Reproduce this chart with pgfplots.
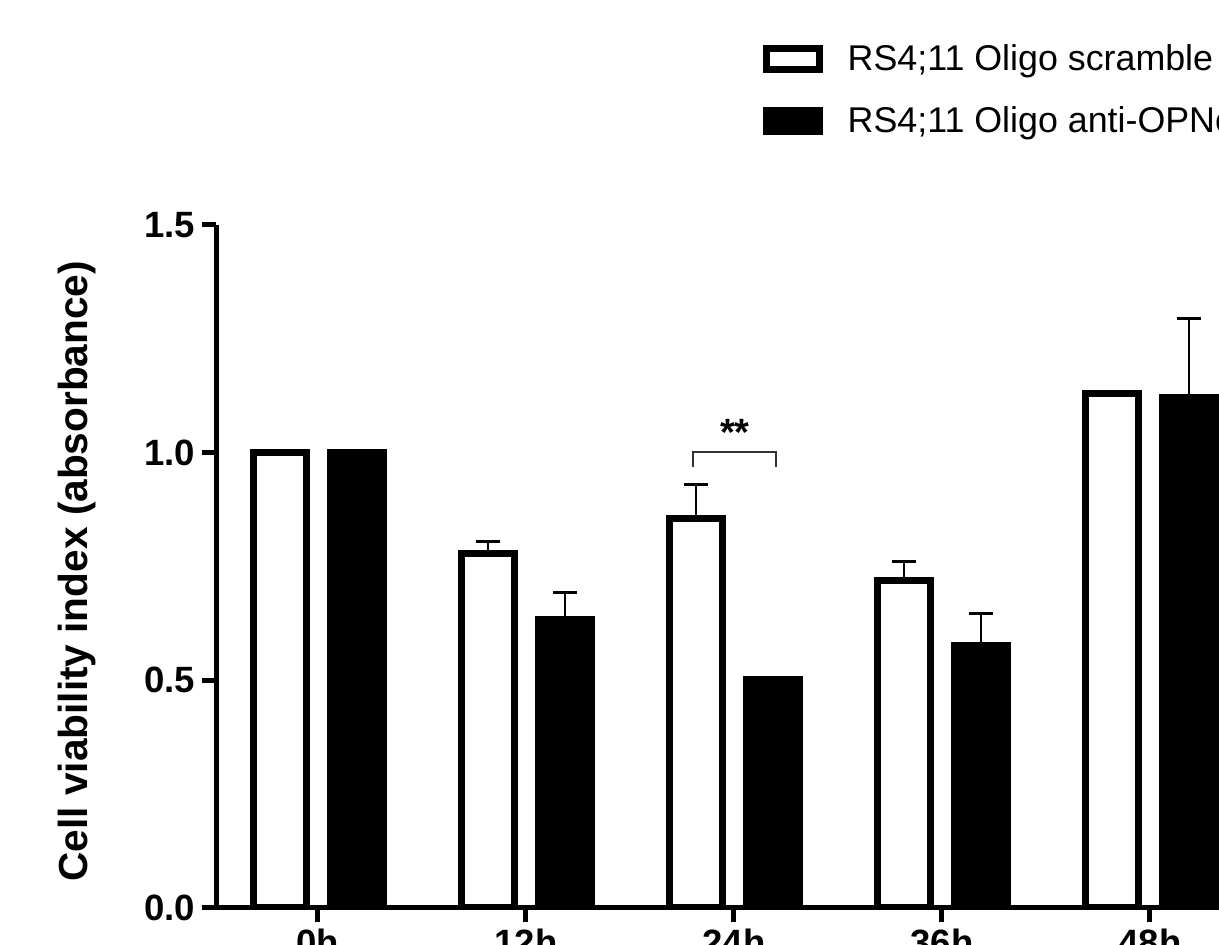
\documentclass[border=0pt]{standalone}
\usepackage{pgfplots}
\pgfplotsset{compat=1.18}
\usepackage{fontspec}
\setmainfont{Liberation Sans}
\begin{document}
\begin{tikzpicture}
\useasboundingbox (0,0) rectangle (609.5pt,472.5pt);
\clip (0,0) rectangle (609.5pt,472.5pt);
\begin{axis}[
  at={(108pt,18.5pt)}, anchor=south west,
  scale only axis, width=529.35pt, height=341.5pt,
  xmin=-0.4904, xmax=4.6, ymin=0, ymax=1.5,
  axis x line*=bottom, axis y line*=left,
  axis line style={line width=2.5pt},
  every tick/.style={black, line width=2.5pt},
  tick align=outside, major tick length=7pt,
  xtick={0,1,2,3,4}, xticklabels={0h,12h,24h,36h,48h},
  ytick={0,0.5,1,1.5}, yticklabels={0.0,0.5,1.0,1.5},
  ticklabel style={font=\bfseries\fontsize{18.3}{18}\selectfont},
  ylabel={Cell viability index (absorbance)},
  ylabel style={font=\bfseries\fontsize{20.3}{21}\selectfont, at={(axis description cs:-0.131,0.493)}, anchor=center},
  ybar, bar width=0.2548,
  legend style={at={(axis description cs:0.516,1.271)}, anchor=north west, draw=none, fill=none,
    font=\fontsize{17.9}{21}\selectfont, row sep=12.5pt, inner sep=0pt,
    /tikz/every odd column/.append style={column sep=10.5pt}},
  legend cell align=left,
]
\addplot[fill=white, draw=black, line width=3.5pt, bar shift=-0.182,
  legend image code/.code={\draw[fill=white,draw=black,line width=3.5pt] (0pt,-5.25pt) rectangle (26.5pt,5.25pt);},
  error bars/.cd, y dir=plus, y explicit,
  error bar style={line width=1pt, black},
  error mark options={rotate=90, mark size=6pt, line width=1.5pt, black}]
coordinates {(0,1.0) +- (0,0) (1,0.779) +- (0,0.025) (2,0.855) +- (0,0.076) (3,0.719) +- (0,0.041) (4,1.130) +- (0,0.005)};
\addlegendentry{RS4;11 Oligo scramble}
\addplot[fill=black, draw=black, line width=3.5pt, bar shift=0.188,
  legend image code/.code={\draw[fill=black,draw=black,line width=3.5pt] (0pt,-5.25pt) rectangle (26.5pt,5.25pt);},
  error bars/.cd, y dir=plus, y explicit,
  error bar style={line width=1pt, black},
  error mark options={rotate=90, mark size=6pt, line width=1.5pt, black}]
coordinates {(0,1.0) +- (0,0) (1,0.634) +- (0,0.058) (2,0.502) +- (0,0) (3,0.577) +- (0,0.069) (4,1.121) +- (0,0.173)};
\addlegendentry{RS4;11 Oligo anti-OPNc}
\draw[line width=1pt, black!80] (axis cs:1.803,0.9686) -- (axis cs:1.803,1.0015) -- (axis cs:2.202,1.0015) -- (axis cs:2.202,0.9686);
\node[font=\bfseries\fontsize{19}{19}\selectfont] at (axis cs:2.005,1.044) {**};
\end{axis}
\end{tikzpicture}
\end{document}
